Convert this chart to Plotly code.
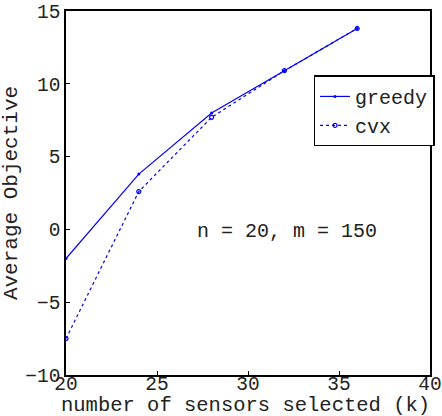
import plotly.graph_objects as go

k = [20, 24, 28, 32, 36]
greedy = [-2.0, 3.8, 8.0, 10.9, 13.8]
cvx = [-7.5, 2.6, 7.7, 10.9, 13.8]
x_ticks = [20, 25, 30, 35, 40]
y_ticks = [-10, -5, 0, 5, 10, 15]

FONT = "Liberation Mono, Courier New, monospace"
BLUE = "rgb(0,0,255)"
TXT = "#222"

fig = go.Figure()
fig.add_trace(go.Scatter(x=k, y=greedy, mode="lines+markers", name="greedy",
                         line=dict(color=BLUE, width=1.2),
                         marker=dict(color=BLUE, size=3)))
fig.add_trace(go.Scatter(x=k, y=cvx, mode="lines+markers", name="cvx",
                         line=dict(color=BLUE, width=1.2, dash="3px,3px"),
                         marker=dict(color=BLUE, size=4, symbol="circle-open",
                                     line=dict(width=1.2, color=BLUE))))

fig.add_annotation(x=32.14, y=-0.13, text="n = 20, m = 150", showarrow=False,
                   xref="x", yref="y", font=dict(family=FONT, size=20, color=TXT))
fig.add_annotation(x=0.4945, y=-0.084, xref="paper", yref="paper",
                   xanchor="center", yanchor="middle", showarrow=False,
                   text="number of sensors selected (k)",
                   font=dict(family=FONT, size=20.5, color=TXT))

axis_common = dict(showgrid=False, zeroline=False, showline=True, linecolor="black",
                   linewidth=1.5, mirror=True, ticks="inside", ticklen=4,
                   tickcolor="black", automargin=False,
                   tickfont=dict(family=FONT, size=19.5, color=TXT))

fig.update_xaxes(range=[20, 40], tickvals=x_ticks,
                 ticklabelstandoff=-10, **axis_common)
fig.update_yaxes(range=[-10, 15], tickvals=y_ticks,
                 title=dict(text="Average Objective", standoff=4,
                            font=dict(family=FONT, size=21, color=TXT)),
                 **axis_common)

fig.update_layout(width=442, height=416,
                  margin=dict(l=66, r=12, t=11, b=41, autoexpand=False),
                  plot_bgcolor="white", paper_bgcolor="white",
                  showlegend=True,
                  legend=dict(x=0.68, y=0.823, xanchor="left", yanchor="top",
                              bgcolor="white", bordercolor="black", borderwidth=1.5,
                              font=dict(family=FONT, size=20, color=TXT),
                              itemwidth=30, tracegroupgap=0))

fig.write_html("out.html")
